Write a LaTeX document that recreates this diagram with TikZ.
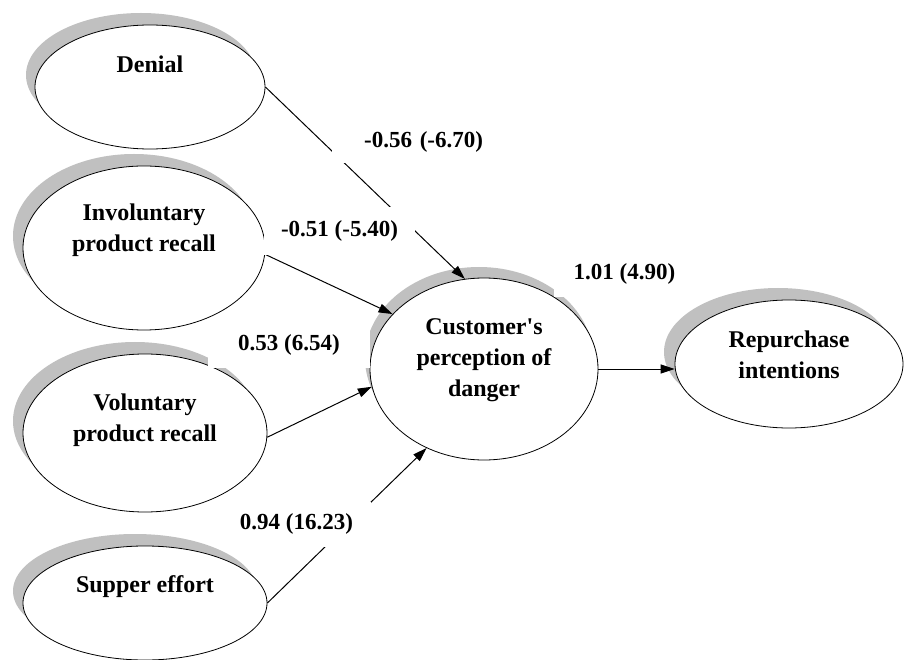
\documentclass[tikz,border=0pt]{standalone}
\usepackage{fontspec}
\setmainfont{Liberation Serif}
\usetikzlibrary{arrows.meta,shapes.geometric}
\definecolor{shadowgray}{RGB}{192,192,192}
\begin{document}
\begin{tikzpicture}[x=1pt,y=-1pt,
  ell/.style={ellipse, draw=black, line width=0.8pt, fill=white, inner sep=0pt},
  shd/.style={fill=shadowgray, draw=none},
  txt/.style={align=center, inner sep=0pt, font=\fontsize{24}{31}\bfseries\selectfont},
  lbl/.style={fill=white, inner sep=0pt, font=\fontsize{23}{27}\bfseries\selectfont},
  arr/.style={line width=1pt, -{Triangle[length=14pt,width=9pt]}}
]
\clip (0,0) rectangle (905,660);
\fill[white] (0,0) rectangle (905,660);

% shadows
\fill[shd] (141,75) ellipse [x radius=115pt, y radius=62pt];
\fill[shd] (134,236) ellipse [x radius=121pt, y radius=82pt];
\fill[shd] (135,421) ellipse [x radius=122pt, y radius=79pt];
\fill[shd] (135,591) ellipse [x radius=122pt, y radius=57pt];
\fill[shd] (479,358) ellipse [x radius=114pt, y radius=91pt];
\fill[shd] (778,352) ellipse [x radius=114pt, y radius=64pt];

% ellipses
\node[ell, minimum width=230pt, minimum height=124pt] (den) at (150,87) {};
\node[ell, minimum width=242pt, minimum height=164pt] (inv) at (144,248) {};
\node[ell, minimum width=244pt, minimum height=158pt] (vol) at (145,433) {};
\node[ell, minimum width=244pt, minimum height=114pt] (sup) at (145,603) {};
\node[ell, minimum width=228pt, minimum height=182pt] (ctr) at (484,369) {};
\node[ell, minimum width=228pt, minimum height=128pt] (rep) at (789,364) {};

% texts
\node[txt] (den-t) at (150,64) {Denial};
\node[txt] (inv-t) at (144,230) {Involuntary\\product recall};
\node[txt] (vol-t) at (145,420) {Voluntary\\product recall};
\node[txt] (sup-t) at (145,587) {Supper effort};
\node[txt] (ctr-t) at (484,360) {Customer\textquotesingle s\\perception of\\danger};
\node[txt] (rep-t) at (789,355) {Repurchase\\intentions};

% connectors
\draw[arr] (den.east) -- (ctr.102);
\draw[arr] (inv.-3) -- (ctr.149);
\draw[arr] (vol.-2) -- (ctr.189);
\draw[arr] (sup.east) -- (ctr.234);
\draw[arr] (ctr.east) -- (rep.west |- ctr.east);

% labels
\node[lbl, text width=134pt, align=right, inner xsep=17pt, minimum height=43pt] (l1) at (416,141.5) {-0.56 (-6.70)};
\node[lbl, minimum width=151pt, minimum height=48pt] (l2) at (339.5,231) {-0.51 (-5.40)};
\node[lbl, minimum width=162pt, minimum height=46pt] (l3) at (289,345) {0.53 (6.54)};
\node[lbl, minimum width=149pt, minimum height=45pt] (l4) at (296.5,524) {0.94 (16.23)};
\node[lbl, minimum width=141pt, minimum height=46pt] (l5) at (624.5,274) {1.01 (4.90)};
\end{tikzpicture}
\end{document}
